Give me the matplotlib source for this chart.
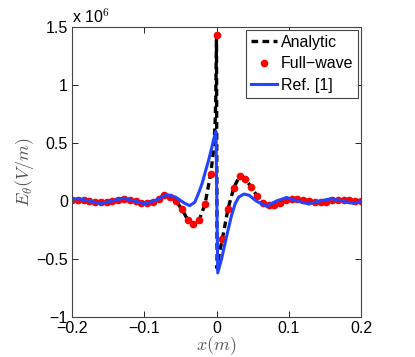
import matplotlib
matplotlib.use("Agg")
import matplotlib.pyplot as plt
import numpy as np

plt.rcParams['font.family'] = ['Liberation Sans', 'DejaVu Sans']
plt.rcParams['mathtext.fontset'] = 'cm'

# Full-wave samples (values in units of 1e6 V/m)
fw_x = [-0.200, -0.192, -0.184, -0.176, -0.168, -0.160, -0.152, -0.144, -0.136, -0.128,
        -0.120, -0.112, -0.104, -0.096, -0.088, -0.080, -0.072, -0.064, -0.056, -0.048,
        -0.040, -0.032, -0.024, -0.016, -0.008, 0.000, 0.008, 0.016, 0.024, 0.032,
        0.040, 0.048, 0.056, 0.064, 0.072, 0.080, 0.088, 0.096, 0.104, 0.112,
        0.120, 0.128, 0.136, 0.144, 0.152, 0.160, 0.168, 0.176, 0.184, 0.192, 0.200]
fw_y = [0.005, 0.005, 0.005, 0.000, -0.005, -0.010, -0.005, 0.000, 0.010, 0.015,
        0.010, 0.000, -0.015, -0.020, -0.005, 0.020, 0.050, 0.035, 0.000, -0.070,
        -0.160, -0.200, -0.165, -0.030, 0.235, 1.430, -0.330, -0.065, 0.115, 0.215,
        0.190, 0.120, 0.045, -0.015, -0.035, -0.035, -0.015, 0.010, 0.020, 0.020,
        0.010, 0.000, -0.010, -0.010, -0.005, 0.005, 0.010, 0.010, 0.005, 0.000, 0.000]

# Analytic curve
an_x = [-0.200, -0.184, -0.168, -0.152, -0.136, -0.120, -0.104, -0.088, -0.072, -0.064,
        -0.056, -0.048, -0.040, -0.032, -0.024, -0.016, -0.008, -0.004, -0.002, -0.001,
        0.000, 0.0008, 0.004, 0.008, 0.016, 0.024, 0.032, 0.040, 0.048, 0.056,
        0.064, 0.072, 0.080, 0.088, 0.104, 0.120, 0.136, 0.152, 0.168, 0.184, 0.200]
an_y = [0.005, 0.005, -0.005, -0.005, 0.010, 0.010, -0.015, -0.005, 0.050, 0.035,
        0.000, -0.070, -0.160, -0.200, -0.165, -0.030, 0.235, 0.440, 0.650, 0.900,
        1.430, -0.580, -0.450, -0.330, -0.065, 0.115, 0.215, 0.190, 0.120, 0.045,
        -0.015, -0.035, -0.035, -0.015, 0.020, 0.010, -0.010, -0.005, 0.010, 0.005, 0.000]

# Ref. [1]
ref_x = [-0.200, -0.190, -0.176, -0.161, -0.145, -0.129, -0.114, -0.099, -0.083, -0.069,
         -0.057, -0.044, -0.037, -0.030, -0.024, -0.020, -0.016, -0.011, -0.007, -0.004,
         -0.0007, 0.0017, 0.007, 0.012, 0.016, 0.021, 0.026, 0.031, 0.038, 0.045,
         0.055, 0.069, 0.083, 0.097, 0.112, 0.127, 0.143, 0.159, 0.174, 0.189, 0.200]
ref_y = [0.015, 0.020, 0.000, -0.022, 0.000, 0.025, 0.000, -0.025, 0.010, 0.055,
         0.035, -0.020, -0.040, -0.010, 0.080, 0.150, 0.240, 0.350, 0.450, 0.530,
         0.600, -0.620, -0.500, -0.360, -0.250, -0.120, -0.020, 0.035, 0.060, 0.050,
         0.000, -0.045, 0.000, 0.030, 0.000, -0.025, 0.000, 0.020, 0.000, -0.020, -0.005]

xticks = [-0.2, -0.1, 0, 0.1, 0.2]
xticklabels = ['\u22120.2', '\u22120.1', '0', '0.1', '0.2']
yticks = [-1, -0.5, 0, 0.5, 1, 1.5]
yticklabels = ['\u22121', '\u22120.5', '0', '0.5', '1', '1.5']

fig = plt.figure(figsize=(4.15, 3.57), dpi=100)
ax = fig.add_axes([72/415, 40/357, 289/415, 290/357])

ax.plot(an_x, an_y, color='black', lw=2.4, ls=(0, (2.0, 1.3)), label='Analytic')
ax.plot(fw_x, fw_y, ls='none', marker='o', ms=4.5, color='#ff0000', mec='#ff0000', label='Full\u2212wave')
ax.plot(ref_x, ref_y, color='#2244ff', lw=2.2, label='Ref. [1]')

ax.set_xlim(-0.2, 0.2)
ax.set_ylim(-1, 1.5)
ax.set_xticks(xticks)
ax.set_xticklabels(xticklabels)
ax.set_yticks(yticks)
ax.set_yticklabels(yticklabels)
ax.tick_params(direction='in', top=True, right=True, length=4, width=0.6, labelsize=11.5, pad=3)
for s in ax.spines.values():
    s.set_linewidth(0.8)
    s.set_color('#444444')

ax.text(0.0, 1.005, 'x 10$^{6}$', transform=ax.transAxes, fontsize=11.5, va='bottom', ha='left',
        family='Liberation Sans')
ax.set_xlabel('$x(m)$', fontsize=13, color='#555555', labelpad=-1)
ax.set_ylabel('$E_\\theta(V/m)$', fontsize=13, color='#555555', labelpad=0)

leg = ax.legend(loc='upper right', fontsize=11.5, frameon=True, fancybox=False, framealpha=1,
                edgecolor='#444444', borderpad=0.3, labelspacing=0.4, handlelength=1.6,
                handletextpad=0.25, borderaxespad=0.2)
leg.get_frame().set_linewidth(0.8)

fig.savefig('out.png', dpi=100)
